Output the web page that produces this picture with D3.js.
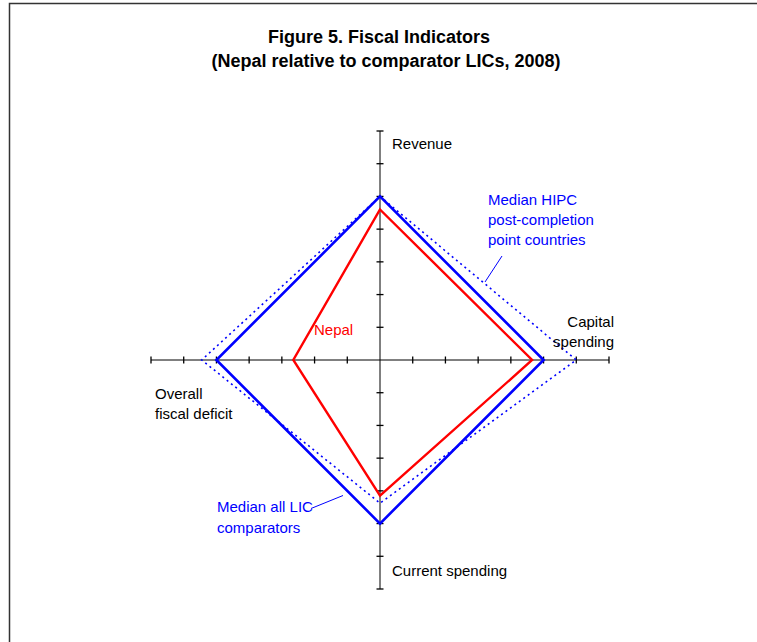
<!DOCTYPE html>
<meta charset="utf-8" />
<style>
    body { margin: 0; background: #fff; }
    text { font-family: "Liberation Sans", Arial, sans-serif; }
</style>
<svg width="757" height="642"></svg>
<script src="https://d3js.org/d3.v7.min.js"></script>
<script>
    var svg = d3.select("svg");
    var width = +svg.attr("width");
    var height = +svg.attr("height");

    // data (1 = comparator median)
    var categories = ["Revenue", "Capital spending", "Current spending", "Overall fiscal deficit"];
    var nepal = [0.92, 0.93, 0.83, 0.53];
    var medianLIC = [1.0, 1.0, 1.0, 1.0];
    var medianHIPC = [1.0, 1.2, 0.875, 1.09];
    var tickValues = [0.2, 0.4, 0.6, 0.8, 1.0, 1.2, 1.4];

    var cx = 380, cy = 360;
    var r = d3.scaleLinear().domain([0, 1.4]).range([0, 229]);
    // radar angles: first category on top, clockwise
    var angle = d3.scalePoint().domain(categories).range([0, 2 * Math.PI * 3 / 4]);

    function pt(cat, v) {
        var a = angle(cat);
        return [cx + r(v) * Math.sin(a), cy - r(v) * Math.cos(a)];
    }

    // frame
    svg.append("rect")
        .attr("x", 9.5).attr("y", 3.5)
        .attr("width", 800).attr("height", 700)
        .attr("fill", "none")
        .attr("stroke", "#333")
        .attr("stroke-width", 1.5);

    // title
    var title = svg.append("text")
        .attr("text-anchor", "middle")
        .attr("font-weight", "bold")
        .attr("font-size", 18);
    title.append("tspan").attr("x", 379).attr("y", 43).text("Figure 5. Fiscal Indicators");
    title.append("tspan").attr("x", 386).attr("y", 67).text("(Nepal relative to comparator LICs, 2008)");

    // axes
    var axes = svg.append("g");
    categories.forEach(function (c) {
        var end = pt(c, 1.4);
        axes.append("line")
            .attr("x1", cx).attr("y1", cy)
            .attr("x2", end[0]).attr("y2", end[1])
            .attr("stroke", "#000").attr("stroke-width", 1);
        var a = angle(c);
        tickValues.forEach(function (t) {
            var p = pt(c, t);
            var dx = 3.5 * Math.cos(a), dy = 3.5 * Math.sin(a);
            axes.append("line")
                .attr("x1", p[0] - dx).attr("y1", p[1] - dy)
                .attr("x2", p[0] + dx).attr("y2", p[1] + dy)
                .attr("stroke", "#000").attr("stroke-width", 1.3);
        });
    });

    var line = d3.line().curve(d3.curveLinearClosed);
    function poly(values) {
        return line(categories.map(function (c, i) { return pt(c, values[i]); }));
    }

    svg.append("path")
        .attr("d", poly(medianHIPC))
        .attr("fill", "none")
        .attr("stroke", "#0000ff")
        .attr("stroke-width", 1.6)
        .attr("stroke-dasharray", "2,3.5");

    svg.append("path")
        .attr("d", poly(medianLIC))
        .attr("fill", "none")
        .attr("stroke", "#0000ff")
        .attr("stroke-width", 2.6)
        .attr("stroke-linejoin", "miter");

    svg.append("path")
        .attr("d", poly(nepal))
        .attr("fill", "none")
        .attr("stroke", "#ff0000")
        .attr("stroke-width", 2.4)
        .attr("stroke-linejoin", "miter");

    // category labels
    var labels = svg.append("g").attr("font-size", 15).attr("fill", "#000");
    labels.append("text").attr("x", 392).attr("y", 148.5).text("Revenue");
    var cap = labels.append("text").attr("text-anchor", "end");
    cap.append("tspan").attr("x", 614).attr("y", 326.5).text("Capital");
    cap.append("tspan").attr("x", 614).attr("y", 346.5).text("spending");
    var def = labels.append("text");
    def.append("tspan").attr("x", 155).attr("y", 399).text("Overall");
    def.append("tspan").attr("x", 155).attr("y", 419).text("fiscal deficit");
    labels.append("text").attr("x", 392).attr("y", 575.5).text("Current spending");

    // series labels
    svg.append("text").attr("font-size", 15).attr("fill", "#ff0000")
        .attr("x", 314).attr("y", 335).text("Nepal");

    var hipc = svg.append("text").attr("font-size", 15).attr("fill", "#0000ff");
    ["Median HIPC", "post-completion", "point countries"].forEach(function (s, i) {
        hipc.append("tspan").attr("x", 488).attr("y", 204.5 + i * 20).text(s);
    });
    svg.append("line")
        .attr("x1", 502).attr("y1", 256).attr("x2", 485).attr("y2", 282)
        .attr("stroke", "#0000ff").attr("stroke-width", 1);

    var lic = svg.append("text").attr("font-size", 15).attr("fill", "#0000ff");
    ["Median all LIC", "comparators"].forEach(function (s, i) {
        lic.append("tspan").attr("x", 217).attr("y", 511.5 + i * 21).text(s);
    });
    svg.append("line")
        .attr("x1", 343).attr("y1", 495.5).attr("x2", 311).attr("y2", 508.5)
        .attr("stroke", "#0000ff").attr("stroke-width", 1);
</script>
